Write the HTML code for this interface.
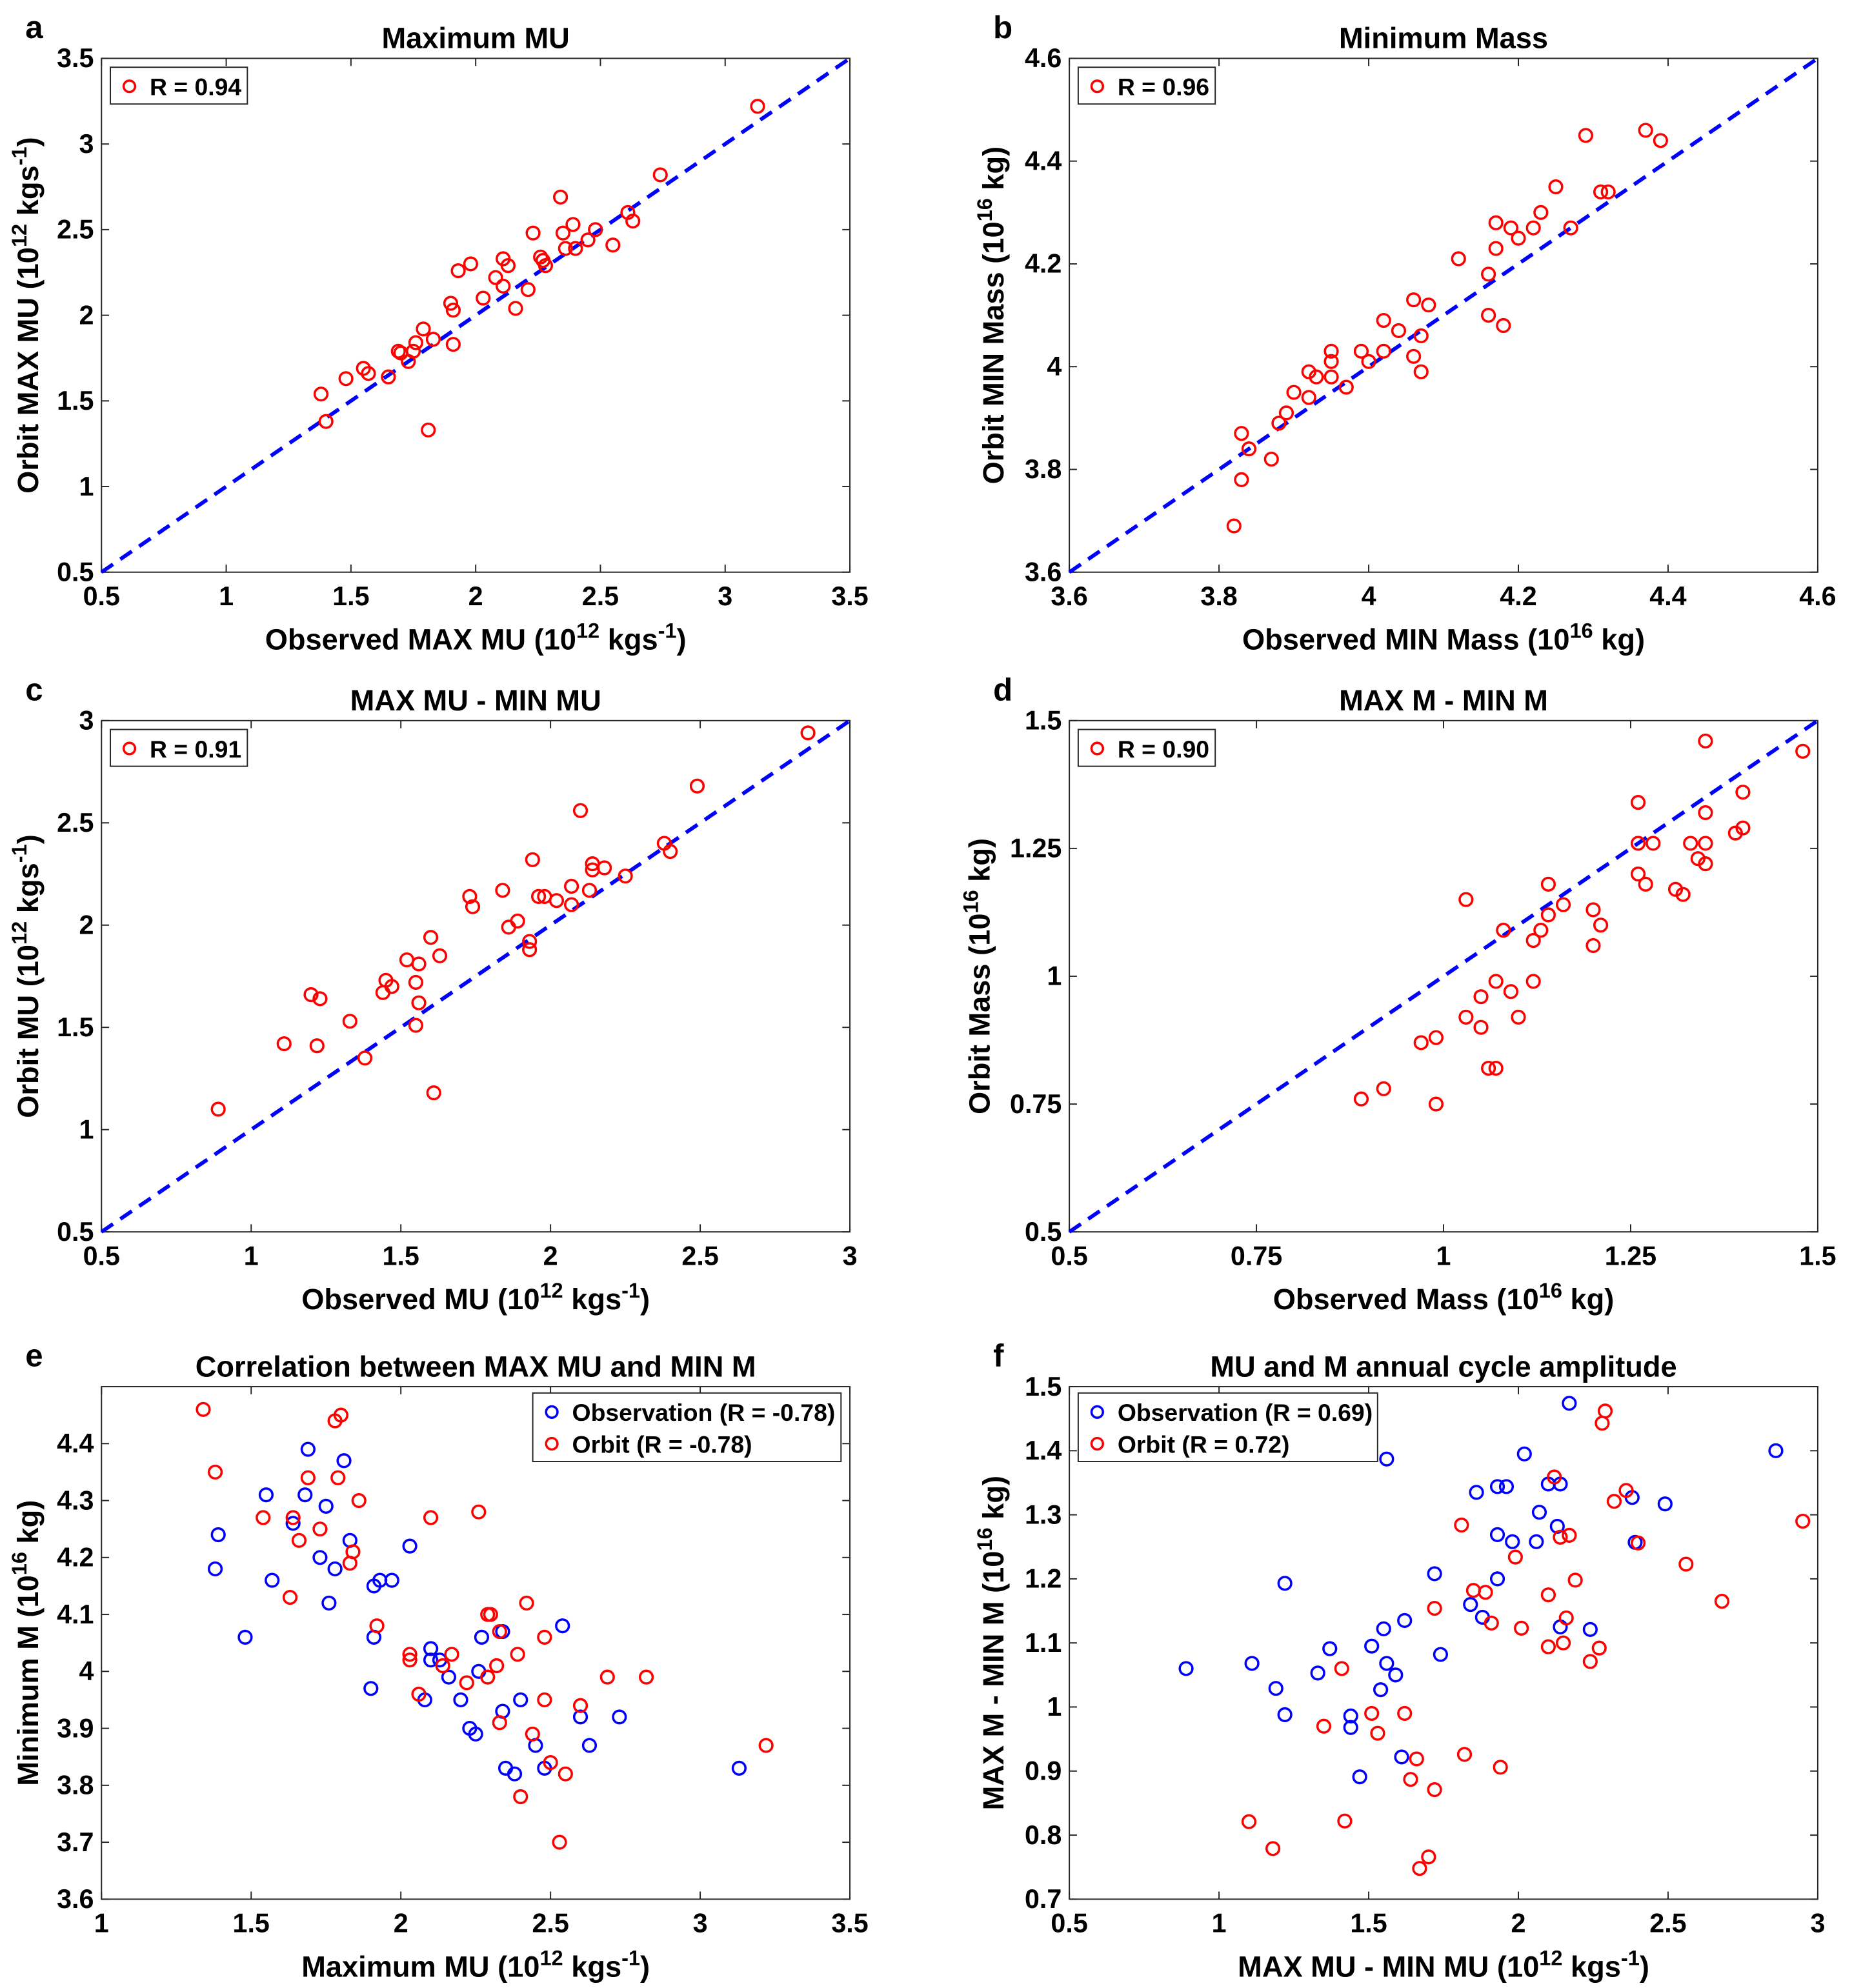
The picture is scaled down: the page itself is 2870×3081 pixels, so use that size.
<!DOCTYPE html>
<html><head><meta charset="utf-8">
<style>
html,body{margin:0;padding:0;background:#fff;}
svg{display:block;font-family:"Liberation Sans",Arial,sans-serif;font-weight:bold;}
</style></head>
<body>
<svg id="fig" xmlns="http://www.w3.org/2000/svg" width="2870" height="3081" viewBox="0 0 1460 1567" preserveAspectRatio="none"></svg>
<script>
// Panel a: Maximum MU
const aObs=[3.13,2.74,2.34,2.61,2.63,2.48,2.39,2.35,2.23,2.45,2.55,2.36,2.40,2.26,2.27,2.28,2.11,2.13,1.98,1.93,2.08,2.11,2.21,2.03,1.90,1.91,2.16,1.79,1.83,1.76,1.91,1.69,1.70,1.75,1.73,1.55,1.57,1.48,1.65,1.38,1.40,1.81];
const aOrb=[3.22,2.82,2.69,2.60,2.55,2.50,2.53,2.48,2.48,2.44,2.41,2.39,2.39,2.34,2.32,2.29,2.33,2.29,2.30,2.26,2.22,2.17,2.15,2.10,2.07,2.03,2.04,1.92,1.86,1.84,1.83,1.79,1.78,1.79,1.73,1.69,1.66,1.63,1.64,1.54,1.38,1.33];
// Panel b: Minimum Mass
const bObs=[4.29,4.37,4.39,4.25,4.31,4.32,4.23,4.17,4.19,4.22,4.20,4.27,4.17,4.12,4.16,4.06,4.08,4.16,4.18,4.02,4.04,4.07,3.95,3.95,3.99,4.00,4.02,4.06,4.07,3.92,3.93,3.95,3.97,3.90,3.92,3.89,3.88,3.83,3.84,3.87,3.83,3.82];
const bOrb=[4.45,4.46,4.44,4.35,4.34,4.34,4.30,4.28,4.27,4.27,4.25,4.27,4.23,4.21,4.18,4.13,4.12,4.10,4.08,4.09,4.07,4.06,4.03,4.01,4.03,4.01,4.03,4.02,3.99,3.99,3.98,3.98,3.96,3.95,3.94,3.91,3.89,3.87,3.84,3.82,3.78,3.69];
// Panel c: MAX MU - MIN MU
const cObs=[2.86,2.49,2.10,2.38,2.40,1.94,2.14,2.14,2.18,2.25,1.73,1.74,1.84,1.96,1.98,2.02,2.07,2.07,2.13,1.89,1.86,1.93,1.93,1.60,1.63,1.52,1.56,1.45,1.47,1.44,1.55,1.56,1.55,1.20,1.23,1.33,1.11,1.22,1.38,1.61,0.89];
const cOrb=[2.94,2.68,2.56,2.40,2.36,2.32,2.30,2.27,2.28,2.24,2.14,2.09,2.17,2.14,2.14,2.12,2.19,2.10,2.17,2.02,1.99,1.92,1.88,1.94,1.85,1.83,1.81,1.73,1.70,1.67,1.72,1.62,1.51,1.66,1.64,1.53,1.42,1.41,1.35,1.18,1.10];
// Panel d: MAX M - MIN M
const dObs=[1.35,1.48,1.40,1.26,1.35,1.39,1.40,1.26,1.28,1.33,1.35,1.34,1.35,1.26,1.27,1.31,1.32,1.14,1.03,1.16,1.14,1.20,1.21,1.08,1.13,1.12,1.20,1.07,1.12,1.09,1.05,1.10,1.03,1.05,0.99,0.97,1.06,1.07,0.92,0.89,0.99];
const dOrb=[1.46,1.44,1.36,1.34,1.32,1.28,1.29,1.26,1.26,1.26,1.26,1.23,1.22,1.20,1.18,1.17,1.16,1.18,1.15,1.14,1.12,1.13,1.10,1.09,1.09,1.07,1.06,0.99,0.99,0.97,0.96,0.92,0.92,0.90,0.88,0.87,0.82,0.82,0.78,0.76,0.75];
// Panel e: correlation MAX MU vs MIN M
const eObsX=[1.69,1.81,1.55,1.68,1.75,1.64,1.39,1.83,2.03,1.73,1.38,1.78,1.57,1.91,1.93,1.97,1.76,2.54,1.48,1.91,2.27,2.34,2.10,2.10,2.13,2.16,2.26,1.90,2.08,2.20,2.40,2.34,2.60,2.73,2.23,2.25,2.45,2.63,2.35,2.38,2.48,3.13];
const eObsY=[4.39,4.37,4.31,4.31,4.29,4.26,4.24,4.23,4.22,4.20,4.18,4.18,4.16,4.15,4.16,4.16,4.12,4.08,4.06,4.06,4.06,4.07,4.04,4.02,4.02,3.99,4.00,3.97,3.95,3.95,3.95,3.93,3.92,3.92,3.90,3.89,3.87,3.87,3.83,3.82,3.83,3.83];
const eOrbX=[1.34,1.80,1.78,1.38,1.69,1.79,1.86,1.54,1.64,1.73,1.66,1.84,1.83,2.10,2.26,1.63,2.42,1.92,2.30,2.29,2.33,2.48,2.03,2.03,2.17,2.14,2.39,2.32,2.29,2.22,2.06,2.69,2.82,2.48,2.60,2.33,2.44,2.50,2.55,2.40,2.53,3.22];
const eOrbY=[4.46,4.45,4.44,4.35,4.34,4.34,4.30,4.27,4.27,4.25,4.23,4.21,4.19,4.27,4.28,4.13,4.12,4.08,4.10,4.10,4.07,4.06,4.03,4.02,4.03,4.01,4.03,4.01,3.99,3.98,3.96,3.99,3.99,3.95,3.94,3.91,3.89,3.84,3.82,3.78,3.70,3.87];
// Panel f: annual cycle amplitude
const fObsX=[2.17,2.86,2.02,1.56,1.86,1.93,1.96,2.10,2.14,2.38,2.49,2.07,2.13,1.93,1.98,2.06,2.39,1.72,1.93,1.22,1.84,1.88,1.62,1.55,2.14,2.24,1.37,1.51,1.74,1.11,1.56,1.33,1.59,0.89,1.19,1.54,1.22,1.44,1.44,1.61,1.47];
const fObsY=[1.474,1.40,1.395,1.387,1.335,1.344,1.344,1.348,1.348,1.327,1.317,1.304,1.282,1.269,1.258,1.258,1.257,1.208,1.200,1.193,1.160,1.140,1.135,1.122,1.125,1.121,1.091,1.095,1.082,1.068,1.068,1.053,1.050,1.060,1.029,1.027,0.988,0.986,0.968,0.922,0.891];
const fOrbX=[2.29,2.28,2.95,2.12,2.36,2.32,1.81,2.14,2.17,2.40,1.99,2.56,2.19,1.85,1.89,2.10,2.68,1.72,2.16,1.91,2.01,2.10,2.15,2.27,2.24,1.41,1.51,1.62,1.35,1.53,1.66,1.82,1.94,1.64,1.72,1.10,1.42,1.18,1.70,1.67];
const fOrbY=[1.462,1.443,1.290,1.359,1.338,1.321,1.284,1.265,1.268,1.256,1.234,1.223,1.198,1.182,1.179,1.175,1.165,1.154,1.139,1.131,1.123,1.094,1.100,1.092,1.071,1.060,0.990,0.990,0.970,0.959,0.919,0.926,0.906,0.887,0.871,0.821,0.822,0.779,0.766,0.748];

const NS="http://www.w3.org/2000/svg";
const svg=document.getElementById('fig');
function mk(tag,attrs,parent){const e=document.createElementNS(NS,tag);for(const k in attrs)e.setAttribute(k,attrs[k]);(parent||svg).appendChild(e);return e;}
function labelText(parent,x,y,parts,size,rot){
  const t=mk('text',{x:x,y:y,'font-size':size,'text-anchor':'middle',fill:'#000'},parent);
  if(rot)t.setAttribute('transform','rotate(-90 '+x+' '+y+')');
  parts.forEach(p=>{const s=mk('tspan',{},t);s.textContent=p[0];if(p[1]==='sup'){s.setAttribute('baseline-shift','super');s.setAttribute('font-size',size*0.72);}});
  return t;
}
function panel(cfg){
  const g=mk('g',{});
  
  
  const L=cfg.x0,R=cfg.x1,T=cfg.y0,B=cfg.y1;
  const sx=v=>L+(v-cfg.xmin)/(cfg.xmax-cfg.xmin)*(R-L);
  const sy=v=>B-(v-cfg.ymin)/(cfg.ymax-cfg.ymin)*(B-T);
  const box=mk('rect',{x:L,y:T,width:R-L,height:B-T,fill:'none',stroke:'#262626','stroke-width':1},g);
  
  
  cfg.xticks.forEach((v,i)=>{
    const x=sx(v);
    mk('line',{x1:x,y1:B,x2:x,y2:B-6,stroke:'#262626','stroke-width':1},g);
    mk('line',{x1:x,y1:T,x2:x,y2:T+6,stroke:'#262626','stroke-width':1},g);
    const t=mk('text',{x:x,y:B+26,'font-size':21,'text-anchor':'middle'},g);
    t.textContent=cfg.xlab[i];
    
    
  });
  cfg.yticks.forEach((v,i)=>{
    const y=sy(v);
    mk('line',{x1:L,y1:y,x2:L+6,y2:y,stroke:'#262626','stroke-width':1},g);
    mk('line',{x1:R,y1:y,x2:R-6,y2:y,stroke:'#262626','stroke-width':1},g);
    const t=mk('text',{x:L-6,y:y+7,'font-size':21,'text-anchor':'end'},g);
    t.textContent=cfg.ylab[i];
    
    
  });
  if(cfg.diag){
    const lo=Math.max(cfg.xmin,cfg.ymin),hi=Math.min(cfg.xmax,cfg.ymax);
    const d=mk('line',{x1:sx(lo),y1:sy(lo),x2:sx(hi),y2:sy(hi),stroke:'#0000ff','stroke-width':3,'stroke-dasharray':'11 7'},g);
    
    
  }
  cfg.series.forEach(s=>{
    s.xs.forEach((xv,i)=>{
      const c=mk('circle',{cx:sx(xv),cy:sy(s.ys[i]),r:5,fill:'none',stroke:s.color,'stroke-width':1.8},g);
      
      
    });
  });
  const tt=mk('text',{x:(L+R)/2,y:T-8,'font-size':23,'text-anchor':'middle'},g);
  tt.textContent=cfg.title;
  
  
  const pl=mk('text',{x:L-60,y:T-16,'font-size':25},g);
  pl.textContent=cfg.letter;
  
  
  const xl=labelText(g,(L+R)/2,B+61,cfg.xlabel,23,false);
  
  
  const yl=labelText(g,L-cfg.yoff,(T+B)/2,cfg.ylabel,23,true);
  
  
  const lg=mk('g',{},g);
  
  
  mk('rect',{x:cfg.lx,y:cfg.ly,width:cfg.lw,height:cfg.series.length*25+4,fill:'#fff',stroke:'#262626','stroke-width':1},lg);
  cfg.series.forEach((s,i)=>{
    const cy=cfg.ly+15+i*25;
    mk('circle',{cx:cfg.lx+15,cy:cy,r:4.5,fill:'none',stroke:s.color,'stroke-width':1.8},lg);
    const t=mk('text',{x:cfg.lx+31,y:cy+7,'font-size':19},lg);
    t.textContent=s.label;
    
    
  });
}
const mu=[['('],['10'],['12','sup'],[' kgs'],['-1','sup'],[')']];
const ms=[['('],['10'],['16','sup'],[' kg)']];
const t5=[0.5,1,1.5,2,2.5,3,3.5], t5l=['0.5','1','1.5','2','2.5','3','3.5'];
panel({name:'panel-a',letter:'a',title:'Maximum MU',x0:80,x1:670,y0:46,y1:451,xmin:0.5,xmax:3.5,ymin:0.5,ymax:3.5,xticks:t5,xlab:t5l,yticks:t5,ylab:t5l,diag:true,yoff:50,
  xlabel:[['Observed MAX MU ']].concat(mu),ylabel:[['Orbit MAX MU ']].concat(mu),lx:87,ly:53,lw:108,
  series:[{xs:aObs,ys:aOrb,color:'#ff0000',label:'R = 0.94',pname:'point-a'}]});
const tb=[3.6,3.8,4,4.2,4.4,4.6], tbl=['3.6','3.8','4','4.2','4.4','4.6'];
panel({name:'panel-b',letter:'b',title:'Minimum Mass',x0:843,x1:1433,y0:46,y1:451,xmin:3.6,xmax:4.6,ymin:3.6,ymax:4.6,xticks:tb,xlab:tbl,yticks:tb,ylab:tbl,diag:true,yoff:52,
  xlabel:[['Observed MIN Mass ']].concat(ms),ylabel:[['Orbit MIN Mass ']].concat(ms),lx:850,ly:53,lw:108,
  series:[{xs:bObs,ys:bOrb,color:'#ff0000',label:'R = 0.96',pname:'point-b'}]});
const tc=[0.5,1,1.5,2,2.5,3], tcl=['0.5','1','1.5','2','2.5','3'];
panel({name:'panel-c',letter:'c',title:'MAX MU - MIN MU',x0:80,x1:670,y0:568,y1:971,xmin:0.5,xmax:3,ymin:0.5,ymax:3,xticks:tc,xlab:tcl,yticks:tc,ylab:tcl,diag:true,yoff:50,
  xlabel:[['Observed MU ']].concat(mu),ylabel:[['Orbit MU ']].concat(mu),lx:87,ly:575,lw:108,
  series:[{xs:cObs,ys:cOrb,color:'#ff0000',label:'R = 0.91',pname:'point-c'}]});
const td=[0.5,0.75,1,1.25,1.5], tdl=['0.5','0.75','1','1.25','1.5'];
panel({name:'panel-d',letter:'d',title:'MAX M - MIN M',x0:843,x1:1433,y0:568,y1:971,xmin:0.5,xmax:1.5,ymin:0.5,ymax:1.5,xticks:td,xlab:tdl,yticks:td,ylab:tdl,diag:true,yoff:63,
  xlabel:[['Observed Mass ']].concat(ms),ylabel:[['Orbit Mass ']].concat(ms),lx:850,ly:575,lw:108,
  series:[{xs:dObs,ys:dOrb,color:'#ff0000',label:'R = 0.90',pname:'point-d'}]});
panel({name:'panel-e',letter:'e',title:'Correlation between MAX MU and MIN M',x0:80,x1:670,y0:1093,y1:1497,xmin:1,xmax:3.5,ymin:3.6,ymax:4.5,yoff:50,
  xticks:[1,1.5,2,2.5,3,3.5],xlab:['1','1.5','2','2.5','3','3.5'],yticks:[3.6,3.7,3.8,3.9,4,4.1,4.2,4.3,4.4],ylab:['3.6','3.7','3.8','3.9','4','4.1','4.2','4.3','4.4'],diag:false,
  xlabel:[['Maximum MU ']].concat(mu),ylabel:[['Minimum M ']].concat(ms),lx:420,ly:1098,lw:243,
  series:[{xs:eObsX,ys:eObsY,color:'#0000ff',label:'Observation (R = -0.78)',pname:'obs-point-e'},{xs:eOrbX,ys:eOrbY,color:'#ff0000',label:'Orbit (R = -0.78)',pname:'orbit-point-e'}]});
panel({name:'panel-f',letter:'f',title:'MU and M annual cycle amplitude',x0:843,x1:1433,y0:1093,y1:1497,xmin:0.5,xmax:3,ymin:0.7,ymax:1.5,yoff:52,
  xticks:tc,xlab:tcl,yticks:[0.7,0.8,0.9,1,1.1,1.2,1.3,1.4,1.5],ylab:['0.7','0.8','0.9','1','1.1','1.2','1.3','1.4','1.5'],diag:false,
  xlabel:[['MAX MU - MIN MU ']].concat(mu),ylabel:[['MAX M - MIN M ']].concat(ms),lx:850,ly:1098,lw:236,
  series:[{xs:fObsX,ys:fObsY,color:'#0000ff',label:'Observation (R = 0.69)',pname:'obs-point-f'},{xs:fOrbX,ys:fOrbY,color:'#ff0000',label:'Orbit (R = 0.72)',pname:'orbit-point-f'}]});
</script>
</body></html>
